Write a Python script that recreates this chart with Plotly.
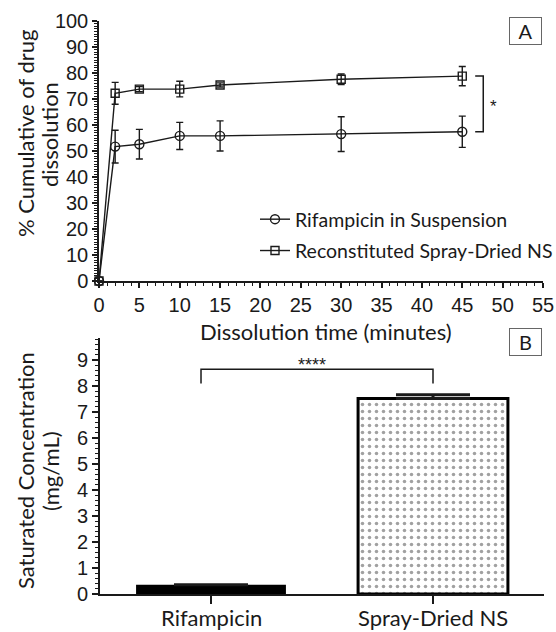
import math
import plotly.graph_objects as go

# ---- Panel A data: cumulative dissolution (%) vs time (min) ----
time_min = [0, 2, 5, 10, 15, 30, 45]
rif_mean = [0, 51.7, 52.6, 55.8, 55.8, 56.5, 57.4]
rif_sd = [0, 6.3, 5.7, 5.2, 5.8, 6.7, 6.0]
ns_mean = [0, 72.2, 73.8, 73.8, 75.4, 77.6, 78.8]
ns_sd = [0, 4.2, 1.0, 3.0, 0.8, 2.0, 3.7]
series_names = ["Rifampicin in Suspension", "Reconstituted Spray-Dried NS"]

# ---- Panel B data: saturated concentration (mg/mL) ----
groups = ["Rifampicin", "Spray-Dried NS"]
sat_conc = [0.36, 7.52]
sat_sd = [0.0, 0.15]

W, H = 556, 632
TXT = "Lato"
NUM = "Liberation Sans"
INK = "#1a1a1a"

def px_x(p):
    return p / W

def px_y(p):
    return 1 - p / H

fig = go.Figure()

fig.add_trace(go.Scatter(
    x=time_min, y=rif_mean, name=series_names[0], mode="lines+markers",
    line=dict(color=INK, width=1.4),
    marker=dict(symbol="circle-open", size=9, color=INK, line=dict(width=1.4)),
    error_y=dict(type="data", array=rif_sd, visible=True, color=INK, thickness=1.4, width=3.5),
    cliponaxis=False, legendgroup="g1", xaxis="x", yaxis="y"))
fig.add_trace(go.Scatter(
    x=time_min, y=ns_mean, name=series_names[1], mode="lines+markers",
    line=dict(color=INK, width=1.4),
    marker=dict(symbol="square-open", size=8, color=INK, line=dict(width=1.4)),
    error_y=dict(type="data", array=ns_sd, visible=True, color=INK, thickness=1.4, width=3.5),
    cliponaxis=False, legendgroup="g2", xaxis="x", yaxis="y"))

bar_err = [v if v > 0 else math.nan for v in sat_sd]
fig.add_trace(go.Bar(
    x=groups, y=sat_conc, width=0.675, showlegend=False,
    marker=dict(
        color=["black", "white"],
        line=dict(color="black", width=[0, 3]),
        pattern=dict(shape=["", "."], fgcolor="black", bgcolor="white", size=7, solidity=0.2),
    ),
    error_y=dict(type="data", symmetric=False, array=bar_err, arrayminus=[0, 0],
                 visible=True, color=INK, thickness=3, width=37),
    xaxis="x2", yaxis="y2"))

axis_common = dict(showline=True, linecolor=INK, ticks="outside", tickcolor=INK,
                   showgrid=False, zeroline=False, automargin=False,
                   tickfont=dict(family=NUM, size=20, color=INK))

fig.update_layout(
    width=W, height=H, margin=dict(l=0, r=0, t=0, b=0, autoexpand=False),
    paper_bgcolor="white", plot_bgcolor="white",
    xaxis=dict(domain=[px_x(99), px_x(543)], range=[0, 55], dtick=5, tick0=0,
               linewidth=1.5, ticklen=5, tickwidth=1.5,
               minor=dict(dtick=1, ticks="outside", ticklen=3, tickcolor=INK, tickwidth=1),
               anchor="y", **axis_common),
    yaxis=dict(domain=[1 - 281 / H, 1 - 21 / H], range=[0, 100], dtick=10, tick0=0,
               linewidth=1.5, ticklen=5, tickwidth=1.5,
               minor=dict(dtick=1, ticks="outside", ticklen=3, tickcolor=INK, tickwidth=1),
               anchor="x", **axis_common),
    xaxis2=dict(domain=[px_x(100), px_x(544)], range=[-0.5, 1.5], type="category",
                linewidth=2, ticklen=8, tickwidth=1.5, showticklabels=False,
                anchor="y2", **axis_common),
    yaxis2=dict(domain=[1 - 594 / H, 1 - 338 / H], range=[0, 9.85], dtick=1, tick0=0,
                linewidth=2, ticklen=6, tickwidth=1.5,
                minor=dict(dtick=0.2, ticks="outside", ticklen=3, tickcolor=INK, tickwidth=1),
                anchor="x2", **axis_common),
    showlegend=True,
    legend=dict(x=px_x(255), y=px_y(200), xanchor="left", yanchor="top",
                bgcolor="rgba(0,0,0,0)", font=dict(family=TXT, size=19.5, color=INK),
                tracegroupgap=3, traceorder="grouped", itemwidth=30),
)

# Category labels for panel B (placed as annotations under each bar, kept inside the page)
for g in groups:
    fig.add_annotation(x=g, y=0, xref="x2", yref="paper", text=g, showarrow=False,
                       font=dict(family=TXT, size=22, color=INK), borderpad=0,
                       xanchor="center", yanchor="bottom")

# Significance brackets
bx0, bx1 = 46.6, 47.6
fig.add_shape(type="path", xref="x", yref="y",
              path=f"M {bx0},{ns_mean[-1]} L {bx1},{ns_mean[-1]} L {bx1},{rif_mean[-1]} L {bx0},{rif_mean[-1]}",
              line=dict(color=INK, width=1.5))
fig.add_annotation(x=48.9, y=(ns_mean[-1] + rif_mean[-1]) / 2, xref="x", yref="y",
                   text="*", showarrow=False, font=dict(family=NUM, size=17, color=INK), yshift=-3)

fig.add_shape(type="path", xref="x2", yref="y2",
              path="M -0.045,8.1 L -0.045,8.65 L 1.0,8.65 L 1.0,8.1",
              line=dict(color=INK, width=1.5))
fig.add_annotation(x=0.455, y=8.82, xref="x2", yref="y2", text="****", showarrow=False,
                   font=dict(family=NUM, size=18, color=INK))

# Panel labels
for lab, cy in [("A", 30.5), ("B", 342)]:
    fig.add_annotation(x=px_x(525), y=px_y(cy), xref="paper", yref="paper", text=lab,
                       showarrow=False, font=dict(family=TXT, size=20, color=INK),
                       bordercolor="#666", borderwidth=1, borderpad=2, width=27, height=22,
                       xanchor="center", yanchor="middle", bgcolor="white")

# Axis titles (each line placed separately for tighter line spacing)
def vtitle(text, cx, cy, size):
    fig.add_annotation(x=px_x(cx), y=px_y(cy), xref="paper", yref="paper", text=text,
                       textangle=-90, showarrow=False, font=dict(family=TXT, size=size, color=INK),
                       xanchor="center", yanchor="middle")

vtitle("% Cumulative of drug", 25, 134, 22)
vtitle("dissolution", 49, 134, 22)
vtitle("Saturated Concentration", 25, 471, 22)
vtitle("(mg/mL)", 50, 471, 22)
fig.add_annotation(x=px_x(326), y=px_y(331), xref="paper", yref="paper",
                   text="Dissolution time (minutes)", showarrow=False,
                   font=dict(family=TXT, size=22, color=INK), xanchor="center", yanchor="middle")

fig.write_html("out.html")
